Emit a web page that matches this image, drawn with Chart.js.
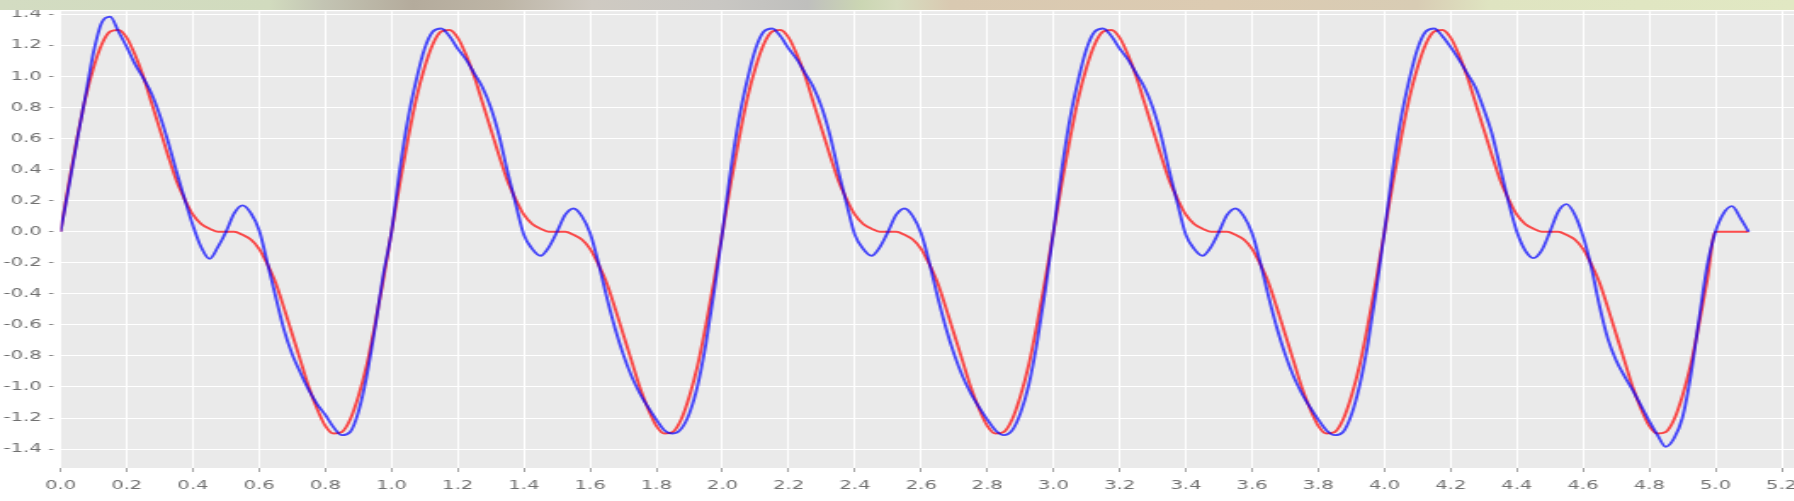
<!DOCTYPE html>
<html>
<head>
<meta charset="utf-8">
<script src="https://cdn.jsdelivr.net/npm/chart.js@4.4.1/dist/chart.umd.min.js"></script>
<style>
  html, body { margin: 0; padding: 0; background: #fff; overflow: hidden; width: 1794px; height: 501px; }
  /* strip of a faded photo along the top edge */
  #photoStrip {
    position: absolute; left: 0; top: 0; width: 1794px; height: 10px; z-index: 2;
    background: linear-gradient(to right,
      #d3dcc2 0%, #d1dbbe 15%, #c3c4b3 18%, #b4ab9c 23%, #bdb5a6 28%,
      #cfcac2 33%, #c9c7c3 40%, #bfbfbd 45%, #cbd6b3 48%, #d6dcbf 50%,
      #d9c9b1 53%, #dccbb2 68%, #d8ccb4 79%, #dfe4c1 83%, #e1e8c3 100%);
  }
  /* the source picture is stretched sideways, so draw narrow and scale */
  #wrap { position: absolute; left: 0; top: 0; width: 1095px; height: 501px; transform: scaleX(1.7); transform-origin: 0 0; }
</style>
</head>
<body>
<div id="photoStrip"></div>
<div id="wrap"><canvas id="chart"></canvas></div>
<script>
// samples every 0.025 on x, from 0.0 to 5.1
const X_STEP = 0.025;

const redY = [
  // 0.0 - 1.0
  0.00, 0.31, 0.60, 0.86, 1.06, 1.21, 1.29, 1.30,
  1.25, 1.14, 1.00, 0.83, 0.66, 0.49, 0.33, 0.21,
  0.11, 0.05, 0.02, 0.00, 0.00, 0.00, -0.02, -0.05,
  -0.11, -0.21, -0.33, -0.49, -0.66, -0.83, -1.00, -1.14,
  -1.25, -1.30, -1.29, -1.21, -1.06, -0.86, -0.60, -0.31,
  // 1.0 - 2.0
  0.00, 0.31, 0.60, 0.86, 1.06, 1.21, 1.29, 1.30,
  1.25, 1.14, 1.00, 0.83, 0.66, 0.49, 0.33, 0.21,
  0.11, 0.05, 0.02, 0.00, 0.00, 0.00, -0.02, -0.05,
  -0.11, -0.21, -0.33, -0.49, -0.66, -0.83, -1.00, -1.14,
  -1.25, -1.30, -1.29, -1.21, -1.06, -0.86, -0.60, -0.31,
  // 2.0 - 3.0
  0.00, 0.31, 0.60, 0.86, 1.06, 1.21, 1.29, 1.30,
  1.25, 1.14, 1.00, 0.83, 0.66, 0.49, 0.33, 0.21,
  0.11, 0.05, 0.02, 0.00, 0.00, 0.00, -0.02, -0.05,
  -0.11, -0.21, -0.33, -0.49, -0.66, -0.83, -1.00, -1.14,
  -1.25, -1.30, -1.29, -1.21, -1.06, -0.86, -0.60, -0.31,
  // 3.0 - 4.0
  0.00, 0.31, 0.60, 0.86, 1.06, 1.21, 1.29, 1.30,
  1.25, 1.14, 1.00, 0.83, 0.66, 0.49, 0.33, 0.21,
  0.11, 0.05, 0.02, 0.00, 0.00, 0.00, -0.02, -0.05,
  -0.11, -0.21, -0.33, -0.49, -0.66, -0.83, -1.00, -1.14,
  -1.25, -1.30, -1.29, -1.21, -1.06, -0.86, -0.60, -0.31,
  // 4.0 - 5.0
  0.00, 0.31, 0.60, 0.86, 1.06, 1.21, 1.29, 1.30,
  1.25, 1.14, 1.00, 0.83, 0.66, 0.49, 0.33, 0.21,
  0.11, 0.05, 0.02, 0.00, 0.00, 0.00, -0.02, -0.05,
  -0.11, -0.21, -0.33, -0.49, -0.66, -0.83, -1.00, -1.14,
  -1.25, -1.30, -1.29, -1.21, -1.06, -0.86, -0.60, -0.31,
  // 5.0 - 5.1
  0.00, 0.00, 0.00, 0.00, 0.00
];

const blueY = [
  // 0.0 - 1.0
  0.00, 0.29, 0.59, 0.87, 1.16, 1.35, 1.385, 1.29,
  1.19, 1.08, 0.99, 0.89, 0.75, 0.58, 0.39, 0.21,
  0.04, -0.10, -0.175, -0.10, 0.00, 0.12, 0.17, 0.12,
  0.01, -0.20, -0.42, -0.63, -0.79, -0.91, -1.02, -1.11,
  -1.18, -1.26, -1.31, -1.29, -1.16, -0.93, -0.62, -0.28,
  // 1.0 - 2.0
  0.00, 0.40, 0.73, 0.98, 1.18, 1.29, 1.31, 1.26,
  1.18, 1.11, 1.02, 0.93, 0.80, 0.62, 0.39, 0.18,
  -0.02, -0.11, -0.155, -0.10, 0.00, 0.11, 0.15, 0.10,
  -0.01, -0.20, -0.42, -0.62, -0.79, -0.93, -1.04, -1.13,
  -1.21, -1.28, -1.30, -1.27, -1.17, -0.99, -0.72, -0.38,
  // 2.0 - 3.0
  0.00, 0.40, 0.73, 0.98, 1.18, 1.29, 1.31, 1.26,
  1.18, 1.11, 1.02, 0.93, 0.80, 0.62, 0.39, 0.18,
  -0.02, -0.11, -0.155, -0.10, 0.00, 0.11, 0.15, 0.10,
  -0.01, -0.20, -0.42, -0.62, -0.79, -0.93, -1.04, -1.13,
  -1.21, -1.28, -1.31, -1.28, -1.17, -0.99, -0.72, -0.38,
  // 3.0 - 4.0
  0.00, 0.40, 0.73, 0.98, 1.18, 1.29, 1.31, 1.26,
  1.18, 1.11, 1.02, 0.93, 0.80, 0.62, 0.39, 0.18,
  -0.02, -0.11, -0.155, -0.10, 0.00, 0.11, 0.15, 0.10,
  -0.01, -0.20, -0.42, -0.62, -0.79, -0.93, -1.04, -1.13,
  -1.21, -1.28, -1.31, -1.29, -1.18, -0.99, -0.72, -0.38,
  // 4.0 - 5.0
  0.00, 0.40, 0.73, 0.98, 1.18, 1.29, 1.31, 1.26,
  1.19, 1.11, 1.02, 0.93, 0.79, 0.63, 0.41, 0.19,
  0.00, -0.12, -0.17, -0.12, 0.00, 0.13, 0.178, 0.11,
  -0.03, -0.23, -0.48, -0.69, -0.83, -0.93, -1.02, -1.12,
  -1.22, -1.31, -1.385, -1.33, -1.20, -0.93, -0.57, -0.22,
  // 5.0 - 5.1
  0.00, 0.12, 0.165, 0.09, 0.00
];

const X_MIN = 0, X_MAX = 5.24, X_TICK = 0.2;
const Y_MIN = -1.522, Y_MAX = 1.421, Y_TICK = 0.2;

const PLOT_BG = '#eaeaea';
const GRID = '#ffffff';
const TICK_MARK = '#8a8a8a';
const TICK_TEXT = '#707070';
const RED = 'rgba(255, 0, 0, 0.7)';
const BLUE = 'rgba(0, 0, 255, 0.7)';

const toPoints = ys => ys.map((y, i) => ({ x: i * X_STEP, y }));
const fmt = v => (Math.abs(v) < 1e-9 ? 0 : v).toFixed(1);

const plotBackground = {
    id: 'plotBackground',
    beforeDraw(chart) {
        const { ctx, chartArea: a } = chart;
        ctx.save();
        ctx.fillStyle = PLOT_BG;
        ctx.fillRect(a.left, a.top, a.right - a.left, a.bottom - a.top);
        ctx.restore();
    }
};

const tickFont = { family: 'DejaVu Sans', size: 11.5 };
const lineStyle = { borderWidth: 1.9, pointRadius: 0, cubicInterpolationMode: 'monotone' };

new Chart(document.getElementById('chart'), {
    type: 'line',
    data: {
        datasets: [
            { ...lineStyle, data: toPoints(blueY), borderColor: BLUE, order: 0 },
            { ...lineStyle, data: toPoints(redY), borderColor: RED, order: 1 }
        ]
    },
    options: {
        animation: false,
        responsive: true,
        maintainAspectRatio: false,
        events: [],
        layout: { padding: { top: 10, right: 39.2, bottom: 0, left: 0 } },
        plugins: { legend: { display: false }, tooltip: { enabled: false } },
        scales: {
            x: {
                type: 'linear', min: X_MIN, max: X_MAX,
                afterFit: s => { s.height = 33; },
                border: { display: false },
                grid: { color: GRID, lineWidth: 1, drawTicks: true, tickLength: 4, tickColor: TICK_MARK, tickWidth: 0.8 },
                ticks: { stepSize: X_TICK, includeBounds: false, autoSkip: false, maxRotation: 0, padding: 7, color: TICK_TEXT, font: tickFont, callback: fmt }
            },
            y: {
                min: Y_MIN, max: Y_MAX,
                afterFit: s => { s.width = 35.6; },
                border: { display: false },
                grid: { color: GRID, lineWidth: 1, drawTicks: true, tickLength: 6.8, tickColor: TICK_MARK, tickWidth: 1, tickBorderDash: [2.6, 20] },
                ticks: { stepSize: Y_TICK, includeBounds: false, padding: 4.3, color: TICK_TEXT, font: tickFont, callback: fmt }
            }
        }
    },
    plugins: [plotBackground]
});
</script>
</body>
</html>
